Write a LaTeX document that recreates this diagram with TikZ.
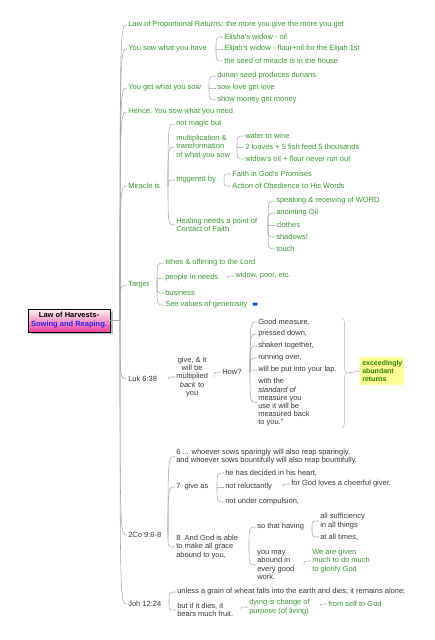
\documentclass[tikz,border=0pt]{standalone}
\usepackage{fontspec}
\setmainfont{Liberation Sans}
\usepackage{tikz}
\usetikzlibrary{calc,shadows}
\usetikzlibrary{decorations.pathreplacing}
\definecolor{topicgreen}{RGB}{56,150,48}
\definecolor{memogray}{RGB}{55,55,55}
\definecolor{linkgray}{RGB}{165,165,165}
\definecolor{notebg}{RGB}{255,255,150}
\definecolor{notegreen}{RGB}{40,130,0}
\definecolor{rootpink}{RGB}{240,60,160}
\definecolor{rootblue}{RGB}{40,40,235}
\tikzset{every picture/.style={line width=0.6pt}}
\tikzset{
  topic/.style={anchor=west,inner sep=1pt,align=left,font=\fontsize{7.5}{8.2}\selectfont,text=topicgreen},
  memo/.style={topic,text=memogray},
  link/.style={draw=linkgray,line width=0.55pt},
  rootbox/.style={draw=black,line width=0.6pt,top color=white!85!pink,bottom color=rootpink,
    minimum width=82pt,minimum height=23pt,inner sep=1pt,align=center,
    font=\bfseries\fontsize{7.5}{9}\selectfont,
    drop shadow={shadow xshift=3pt,shadow yshift=-2pt,fill=black!55}},
  notebox/.style={anchor=west,fill=notebg,inner sep=2pt,align=left,text=notegreen,
    font=\bfseries\fontsize{7}{7.6}\selectfont,minimum width=42pt,minimum height=28pt},
}
% curved connector from the parent's junction to the child's left side
\newcommand\branch[2]{\draw[link] ($(#2.west |- #1)+(-7,0)$) .. controls ($(#2.west)+(-7,0)$) .. (#2.west);}

\begin{document}
\begin{tikzpicture}[x=1pt,y=-1pt]
\useasboundingbox (0,0) rectangle (435,640);
% central topic
\node[rootbox] (root) at (69,320.5) {Law of Harvests-\\\textcolor{rootblue}{Sowing and Reaping.}};
%
\node[topic] (lpr) at (127,25) {Law of Proportional Returns: the more you give the more you get};
\node[topic] (sowhave) at (127,49) {You sow what you have};
\node[topic] (getsow) at (127,88) {You get what you sow};
\node[topic] (hence) at (127,112) {Hence, You sow what you need};
\node[topic] (miracle) at (127,186) {Miracle is};
\node[topic] (target) at (127,285) {Target};
\node[memo] (luke) at (127,379) {Luk 6:38};
\node[memo] (cor) at (127,535) {2Co 9:6-8};
\node[memo] (john) at (127,604) {Joh 12:24};
%
\node[topic] (elisha) at (223,37) {Elisha's widow - oil};
\node[topic] (elijah) at (223,49) {Elijah's widow - flour+oil for the Elijah 1st};
\node[topic] (seed) at (223,61) {the seed of miracle is in the house};
%
\node[topic] (durian) at (216,76) {durian seed produces durians};
\node[topic] (love) at (216,88) {sow love get love};
\node[topic] (money) at (216,100) {show money get money};
%
\node[topic] (magic) at (175,124) {not magic but};
\node[topic] (multi) at (175,147) {multiplication \&\\transformation\\of what you sow};
\node[topic] (trigger) at (175,180) {triggered by};
\node[topic] (healing) at (175,225) {Healing needs a point of\\Contact of Faith};
\node[topic] (wine) at (244,136) {water to wine};
\node[topic] (loaves) at (244,147) {2 loaves + 5 fish feed 5 thousands};
\node[topic] (oil) at (244,159) {widow's oil + flour never run out};
\node[topic] (faith) at (231,174) {Faith in God's Promises};
\node[topic] (action) at (231,186) {Action of Obedience to His Words};
\node[topic] (word) at (275,201) {speaking \& receiving of WORD};
\node[topic] (anoint) at (275,213) {anointing Oil};
\node[topic] (clothes) at (275,225) {clothes};
\node[topic] (shadows) at (275,237) {shadows!};
\node[topic] (touch) at (275,249) {touch};
%
\node[topic] (tithes) at (164,263) {tithes \& offering to the Lord};
\node[topic] (needs) at (164,278) {people in needs};
\node[topic] (business) at (164,293) {business};
\node[topic] (values) at (164,305) {See values of generosity};
\node[topic] (widow) at (234,276) {widow, poor, etc.};
\node[fill=blue!65!cyan,rounded corners=0.6pt,minimum width=5pt,minimum height=3pt,inner sep=0pt] (valicon) at (255,304) {};
%
\node[memo,align=center] (give) at (175,377) {give, \& it\\will be\\multiplied\\\textit{back} to\\you};
\node[memo] (how) at (221,372) {How?};
\node[memo] (good) at (257,322) {Good measure,};
\node[memo] (pressed) at (257,334) {pressed down,};
\node[memo] (shaken) at (257,346) {shaken together,};
\node[memo] (running) at (257,358) {running over,};
\node[memo] (lap) at (257,370) {will be put into your lap.};
\node[memo] (standard) at (257,402.5) {with the\\\textit{standard of}\\measure you\\use it will be\\measured back\\to you.”};
\draw[linkgray!80,line width=0.5pt,decorate,decoration={brace,amplitude=5pt}] (342,318) -- (342,428);
\coordinate (bracetip) at (348,373);
\node[notebox] (abundant) at (360,371) {exceedingly\\abundant\\returns};
\draw[link] (bracetip) -- (abundant.west);
%
\node[memo] (sparingly) at (175,456.5) {6 ... whoever sows sparingly will also reap sparingly,\\and whoever sows bountifully will also reap bountifully.};
\node[memo] (giveas) at (175,487) {7\ \ give as};
\node[memo] (able) at (175,547) {8\ \ And God is able\\to make all grace\\abound to you,};
\node[memo] (heart) at (224,473) {he has decided in his heart,};
\node[memo] (reluct) at (224,487) {not reluctantly};
\node[memo] (compul) at (224,502) {not under compulsion,};
\node[memo] (cheerful) at (290,484) {for God loves a cheerful giver.};
\node[memo] (having) at (256,527) {so that having};
\node[memo] (abound) at (256,565) {you may\\abound in\\every good\\work.};
\node[memo] (suffic) at (319,521) {all sufficiency\\in all things};
\node[memo] (times) at (319,537) {at all times,};
\node[topic] (given) at (311,561) {We are given\\much to do much\\to glorify God};
%
\node[memo] (grain) at (176,592) {unless a grain of wheat falls into the earth and dies, it remains alone;};
\node[memo] (fruit) at (176,610) {but if it dies, it\\bears much fruit.};
\node[topic] (dying) at (248,607) {dying is change of\\purpose (of living)};
\node[topic] (self) at (327,604) {from self to God};
%
% connectors
\draw[link] (root.east) -- ($(lpr.west |- root)+(-7,0)$);
\branch{root}{lpr}
\branch{root}{sowhave}
\branch{root}{getsow}
\branch{root}{hence}
\branch{root}{miracle}
\branch{root}{target}
\branch{root}{luke}
\branch{root}{cor}
\branch{root}{john}
\branch{sowhave}{elisha}
\branch{sowhave}{elijah}
\branch{sowhave}{seed}
\branch{getsow}{durian}
\branch{getsow}{love}
\branch{getsow}{money}
\branch{miracle}{magic}
\branch{miracle}{multi}
\branch{miracle}{trigger}
\branch{miracle}{healing}
\branch{multi}{wine}
\branch{multi}{loaves}
\branch{multi}{oil}
\branch{trigger}{faith}
\branch{trigger}{action}
\branch{healing}{word}
\branch{healing}{anoint}
\branch{healing}{clothes}
\branch{healing}{shadows}
\branch{healing}{touch}
\branch{target}{tithes}
\branch{target}{needs}
\branch{target}{business}
\branch{target}{values}
\branch{needs}{widow}
\branch{luke}{give}
\branch{give}{how}
\branch{how}{good}
\branch{how}{pressed}
\branch{how}{shaken}
\branch{how}{running}
\branch{how}{lap}
\branch{how}{standard}
\branch{cor}{sparingly}
\branch{cor}{giveas}
\branch{cor}{able}
\branch{giveas}{heart}
\branch{giveas}{reluct}
\branch{giveas}{compul}
\branch{reluct}{cheerful}
\branch{able}{having}
\branch{able}{abound}
\branch{having}{suffic}
\branch{having}{times}
\branch{abound}{given}
\branch{john}{grain}
\branch{john}{fruit}
\branch{fruit}{dying}
\branch{dying}{self}
\end{tikzpicture}
\end{document}
